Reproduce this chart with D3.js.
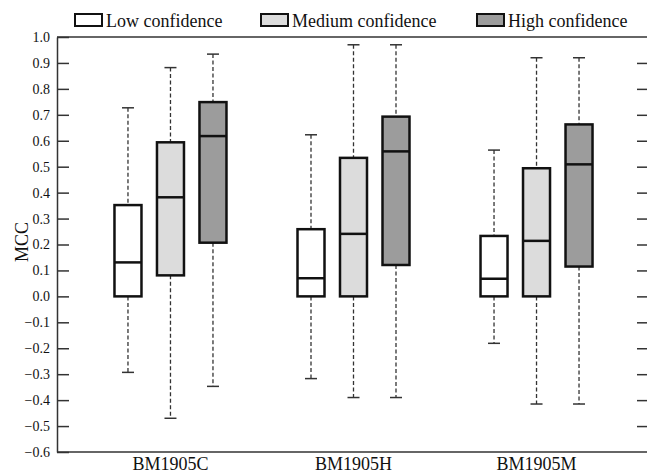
<!DOCTYPE html>
<html>
<head>
<meta charset="utf-8">
<script src="https://cdn.jsdelivr.net/npm/d3@7/dist/d3.min.js"></script>
<style>
  html, body { margin: 0; padding: 0; background: #fff; }
  svg { display: block; }
  text { font-family: "Liberation Serif", "Times New Roman", serif; fill: #111; }
</style>
</head>
<body>
<svg id="chart" width="647" height="474"></svg>
<script>
const groups = ["BM1905C", "BM1905H", "BM1905M"];
const series = ["Low confidence", "Medium confidence", "High confidence"];
const fills = ["#ffffff", "#dcdcdc", "#9c9c9c"];
const yTicks = [1.0, 0.9, 0.8, 0.7, 0.6, 0.5, 0.4, 0.3, 0.2, 0.1, 0.0, -0.1, -0.2, -0.3, -0.4, -0.5, -0.6];

// per series, values per group
const whiskerHigh = [[0.727, 0.623, 0.564], [0.882, 0.970, 0.920], [0.934, 0.970, 0.920]];
const q3Values     = [[0.352, 0.259, 0.233], [0.594, 0.534, 0.494], [0.749, 0.693, 0.663]];
const medians      = [[0.131, 0.070, 0.068], [0.382, 0.241, 0.214], [0.618, 0.559, 0.509]];
const q1Values     = [[0.000, 0.000, 0.000], [0.081, 0.000, 0.000], [0.207, 0.121, 0.115]];
const whiskerLow   = [[-0.293, -0.317, -0.181], [-0.470, -0.390, -0.415], [-0.347, -0.390, -0.415]];

const svg = d3.select("#chart");
const mLeft = 57, mRight = 647, mTop = 37, mBottom = 452;

const y = d3.scaleLinear().domain([-0.6, 1.0]).range([mBottom, mTop]);
const x = d3.scaleBand().domain(groups).range([mLeft, 650]).paddingInner(0).paddingOuter(0.12);
const xs = d3.scaleBand().domain(series).range([-63.75, 63.75]);
const boxW = 27, capW = 12;

// axes
const yAxisL = d3.axisLeft(y).tickValues(yTicks).tickSizeInner(-12).tickSizeOuter(0).tickPadding(7)
  .tickFormat(d3.format(".1f"));
const gL = svg.append("g").attr("transform", `translate(${mLeft},0)`).call(yAxisL);
gL.select(".domain").attr("stroke", "#333").attr("stroke-width", 1.5);
gL.selectAll(".tick line").attr("stroke", "#333").attr("stroke-width", 1.5);
gL.selectAll(".tick text").attr("font-size", 14).attr("font-family", "Liberation Serif").attr("fill", "#111");

const yAxisR = d3.axisRight(y).tickValues(yTicks.slice(1, -1)).tickSizeInner(-10).tickSizeOuter(0).tickFormat("");
const gR = svg.append("g").attr("transform", `translate(${mRight},0)`).call(yAxisR);
gR.select(".domain").remove();
gR.selectAll(".tick line").attr("stroke", "#333").attr("stroke-width", 1.5);

// top and bottom frame lines
svg.append("line").attr("x1", mLeft).attr("x2", mRight).attr("y1", y(1.0)).attr("y2", y(1.0))
  .attr("stroke", "#333").attr("stroke-width", 1.5);
const xAxis = d3.axisBottom(x).tickSize(0).tickPadding(5);
const gB = svg.append("g").attr("transform", `translate(0,${mBottom})`).call(xAxis);
gB.select(".domain").attr("d", `M${mLeft},0H${mRight}`).attr("stroke", "#333").attr("stroke-width", 1.5);
gB.selectAll(".tick text").attr("font-size", 18).attr("font-family", "Liberation Serif").attr("fill", "#111");

// y label
svg.append("text").attr("transform", `translate(28,242) rotate(-90)`)
  .attr("text-anchor", "middle").attr("font-size", 18).text("MCC");

// boxes
series.forEach((s, si) => {
  groups.forEach((g, gi) => {
    const cx = x(g) + x.bandwidth() / 2 + xs(s) + xs.bandwidth() / 2;
    const gg = svg.append("g");
    const wHi = y(whiskerHigh[si][gi]), q3 = y(q3Values[si][gi]), md = y(medians[si][gi]),
          q1 = y(q1Values[si][gi]), wLo = y(whiskerLow[si][gi]);
    gg.append("line").attr("x1", cx).attr("x2", cx).attr("y1", wHi).attr("y2", q3)
      .attr("stroke", "#333").attr("stroke-width", 1.3).attr("stroke-dasharray", "4,2.5");
    gg.append("line").attr("x1", cx).attr("x2", cx).attr("y1", q1).attr("y2", wLo)
      .attr("stroke", "#333").attr("stroke-width", 1.3).attr("stroke-dasharray", "4,2.5");
    gg.append("line").attr("x1", cx - capW / 2).attr("x2", cx + capW / 2).attr("y1", wHi).attr("y2", wHi)
      .attr("stroke", "#333").attr("stroke-width", 1.5);
    gg.append("line").attr("x1", cx - capW / 2).attr("x2", cx + capW / 2).attr("y1", wLo).attr("y2", wLo)
      .attr("stroke", "#333").attr("stroke-width", 1.5);
    gg.append("rect").attr("x", cx - boxW / 2).attr("y", q3).attr("width", boxW).attr("height", q1 - q3)
      .attr("fill", fills[si]).attr("stroke", "#111").attr("stroke-width", 2.5);
    gg.append("line").attr("x1", cx - boxW / 2).attr("x2", cx + boxW / 2).attr("y1", md).attr("y2", md)
      .attr("stroke", "#111").attr("stroke-width", 2.5);
  });
});

// legend
const legendX = [75, 261, 477];
series.forEach((s, si) => {
  const lg = svg.append("g").attr("transform", `translate(${legendX[si]},0)`);
  lg.append("rect").attr("x", 0).attr("y", 14).attr("width", 27).attr("height", 12)
    .attr("fill", fills[si]).attr("stroke", "#111").attr("stroke-width", 2);
  lg.append("text").attr("x", 31).attr("y", 27).attr("font-size", 18).text(s);
});
</script>
</body>
</html>
